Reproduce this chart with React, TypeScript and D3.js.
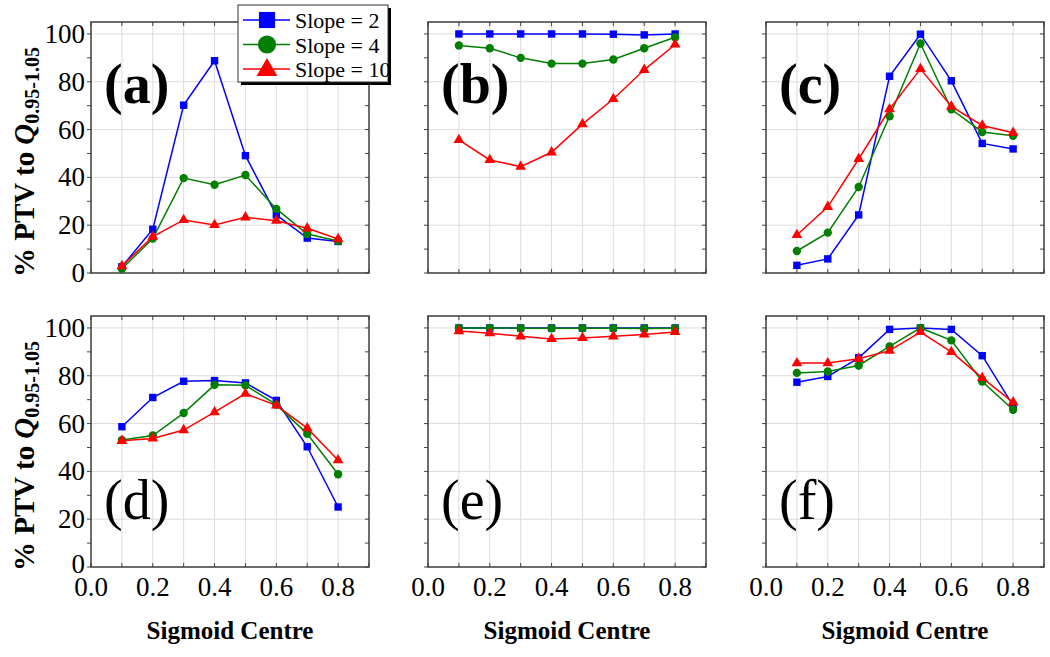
import React, { useEffect, useRef } from "react";
import * as d3 from "d3";

const centres = [0.1, 0.2, 0.3, 0.4, 0.5, 0.6, 0.7, 0.8];
const seriesNames = ["Slope = 2", "Slope = 4", "Slope = 10"];
const panelLabels = ["(a)", "(b)", "(c)", "(d)", "(e)", "(f)"];
const xTickLabels = ["0.0", "0.2", "0.4", "0.6", "0.8"];
const yTickLabels = ["0", "20", "40", "60", "80", "100"];

// values per panel: [slope 2, slope 4, slope 10]
const panelA = [
  [2.6, 18.3, 70.2, 88.8, 49.1, 24.3, 14.6, 13.2],
  [1.8, 14.4, 39.7, 36.9, 41.0, 26.8, 16.3, 13.4],
  [2.9, 15.2, 22.2, 20.1, 23.3, 21.9, 18.7, 14.2],
];
const panelB = [
  [100, 100, 100, 100, 100, 99.9, 99.6, 100],
  [95.2, 94.0, 90.0, 87.6, 87.6, 89.3, 94.0, 98.6],
  [55.7, 47.3, 44.5, 50.5, 62.3, 72.8, 85.0, 95.6],
];
const panelC = [
  [3.2, 5.9, 24.3, 82.3, 99.9, 80.4, 54.2, 51.9],
  [9.2, 16.9, 36.0, 65.6, 96.0, 68.5, 59.0, 57.4],
  [15.9, 27.7, 47.7, 68.5, 85.4, 69.7, 61.7, 58.7],
];
const panelD = [
  [58.7, 70.9, 77.7, 78.0, 77.0, 69.7, 50.3, 25.1],
  [53.1, 55.0, 64.4, 76.2, 76.0, 67.9, 55.7, 38.8],
  [52.8, 53.8, 57.3, 64.8, 72.5, 67.6, 58.1, 44.7],
];
const panelE = [
  [100, 100, 100, 100, 100, 100, 100, 100],
  [100, 100, 99.9, 99.9, 99.9, 99.9, 99.8, 99.9],
  [98.7, 97.8, 96.5, 95.4, 95.8, 96.5, 97.3, 98.3],
];
const panelF = [
  [77.3, 79.7, 87.5, 99.4, 100, 99.4, 88.4, 67.5],
  [81.2, 81.8, 84.3, 92.3, 100, 94.8, 77.6, 65.8],
  [85.3, 85.3, 87.1, 90.5, 98.3, 90.0, 79.1, 68.9],
];
const panels = [panelA, panelB, panelC, panelD, panelE, panelF];

const colors = ["#0000ff", "#007f00", "#ff0000"];
const serif = '"Liberation Serif", "Times New Roman", Times, serif';

const App = () => {
  const svgRef = useRef<SVGSVGElement>(null);

  useEffect(() => {
    const width = 1050;
    const height = 657;
    const colLeft = [91, 428, 766];
    const rowTop = [22, 316];
    const pw = 278;
    const ph = 251;

    const root = d3.select(svgRef.current);
    root.selectAll("*").remove();
    root.attr("width", width).attr("height", height).style("font-family", serif);

    const markerPath = (k, size) => {
      const sym = [d3.symbolSquare, d3.symbolCircle, d3.symbolTriangle][k];
      return d3.symbol().type(sym).size(size)();
    };

    panels.forEach((panel, p) => {
      const col = p % 3;
      const row = Math.floor(p / 3);
      const g = root
        .append("g")
        .attr("transform", `translate(${colLeft[col]},${rowTop[row]})`);

      const x = d3.scaleLinear().domain([0, 0.9]).range([0, pw]);
      const y = d3.scaleLinear().domain([0, 105]).range([ph, 0]);

      // grid
      g.selectAll(".vgrid")
        .data(d3.range(1, 9).map((i) => i / 10))
        .enter()
        .append("line")
        .attr("x1", (d) => x(d))
        .attr("x2", (d) => x(d))
        .attr("y1", 0)
        .attr("y2", ph)
        .attr("stroke", "#dcdcdc")
        .attr("stroke-width", 1);
      g.selectAll(".hgrid")
        .data([20, 40, 60, 80, 100])
        .enter()
        .append("line")
        .attr("x1", 0)
        .attr("x2", pw)
        .attr("y1", (d) => y(d))
        .attr("y2", (d) => y(d))
        .attr("stroke", "#dcdcdc")
        .attr("stroke-width", 1);

      // ticks
      const yt = d3.range(0, 101, 10);
      const xt = d3.range(0, 10).map((i) => i / 10);
      const tickCol = "#444";
      yt.forEach((v) => {
        g.append("line").attr("x1", -4).attr("x2", 0).attr("y1", y(v)).attr("y2", y(v)).attr("stroke", tickCol);
        g.append("line").attr("x1", pw - 4).attr("x2", pw).attr("y1", y(v)).attr("y2", y(v)).attr("stroke", tickCol);
      });
      xt.forEach((v) => {
        g.append("line").attr("x1", x(v)).attr("x2", x(v)).attr("y1", 0).attr("y2", 4).attr("stroke", tickCol);
        g.append("line").attr("x1", x(v)).attr("x2", x(v)).attr("y1", ph - 4).attr("y2", ph).attr("stroke", tickCol);
      });

      // frame
      g.append("rect")
        .attr("x", 0)
        .attr("y", 0)
        .attr("width", pw)
        .attr("height", ph)
        .attr("fill", "none")
        .attr("stroke", "#3c3c3c")
        .attr("stroke-width", 1.5);

      // y tick labels on first column
      if (col === 0) {
        g.selectAll(".ylab")
          .data(yTickLabels)
          .enter()
          .append("text")
          .attr("x", -6)
          .attr("y", (d) => y(+d) + (d === "0" && row === 1 ? 6 : 9))
          .attr("text-anchor", "end")
          .style("font-size", "27px")
          .text((d) => d);
      }

      // x tick labels and title on bottom row
      if (row === 1) {
        g.selectAll(".xlab")
          .data(xTickLabels)
          .enter()
          .append("text")
          .attr("x", (d) => x(+d))
          .attr("y", ph + 29)
          .attr("text-anchor", "middle")
          .style("font-size", "27px")
          .text((d) => d);
        g.append("text")
          .attr("x", pw / 2)
          .attr("y", ph + 72)
          .attr("text-anchor", "middle")
          .style("font-weight", "bold")
          .style("font-size", "25px")
          .text("Sigmoid Centre");
      }

      // lines + markers
      panel.forEach((vals, k) => {
        const line = d3
          .line<number>()
          .x((d, i) => x(centres[i]))
          .y((d) => y(d));
        g.append("path")
          .attr("d", line(vals))
          .attr("fill", "none")
          .attr("stroke", colors[k])
          .attr("stroke-width", 1.5);
        g.selectAll(`.m${k}`)
          .data(vals)
          .enter()
          .append("path")
          .attr("d", markerPath(k, k === 2 ? 50 : 55))
          .attr("transform", (d, i) => `translate(${x(centres[i])},${y(d)})`)
          .attr("fill", colors[k]);
      });

      // panel label
      g.append("text")
        .attr("x", 13)
        .attr("y", row === 0 ? 81 : 203)
        .style("font-weight", row === 0 ? "bold" : "normal")
        .style("font-size", "56px")
        .text(panelLabels[p]);
    });

    // y axis titles
    [rowTop[0], rowTop[1]].forEach((top) => {
      const t = root
        .append("text")
        .attr("transform", `translate(34,${top + 140}) rotate(-90)`)
        .attr("text-anchor", "middle")
        .style("font-weight", "bold")
        .style("font-size", "29px");
      t.append("tspan").text("% PTV to ");
      t.append("tspan").style("font-style", "italic").text("Q");
      t.append("tspan").style("font-size", "20px").attr("dy", 5).text("0.95-1.05");
    });

    // legend
    const lg = root.append("g").attr("transform", "translate(238,5)");
    lg.append("rect").attr("x", 3).attr("y", 3).attr("width", 150).attr("height", 77).attr("fill", "#000");
    lg.append("rect")
      .attr("x", 0)
      .attr("y", 0)
      .attr("width", 150)
      .attr("height", 77)
      .attr("fill", "#fff")
      .attr("stroke", "#333")
      .attr("stroke-width", 1);
    seriesNames.forEach((name, k) => {
      const cy = 15 + k * 24.5;
      lg.append("line")
        .attr("x1", 5)
        .attr("x2", 52)
        .attr("y1", cy)
        .attr("y2", cy)
        .attr("stroke", colors[k])
        .attr("stroke-width", 1.5);
      lg.append("path")
        .attr("d", markerPath(k, k === 2 ? 190 : 260))
        .attr("transform", `translate(29,${cy + (k === 2 ? 1 : 0)})`)
        .attr("fill", colors[k]);
      lg.append("text")
        .attr("x", 57)
        .attr("y", cy + 8)
        .style("font-size", "22px")
        .text(name);
    });
  }, []);

  return (
    <div style={{ position: "absolute", left: 0, top: 0 }}>
      <svg ref={svgRef}></svg>
    </div>
  );
};

export default App;
